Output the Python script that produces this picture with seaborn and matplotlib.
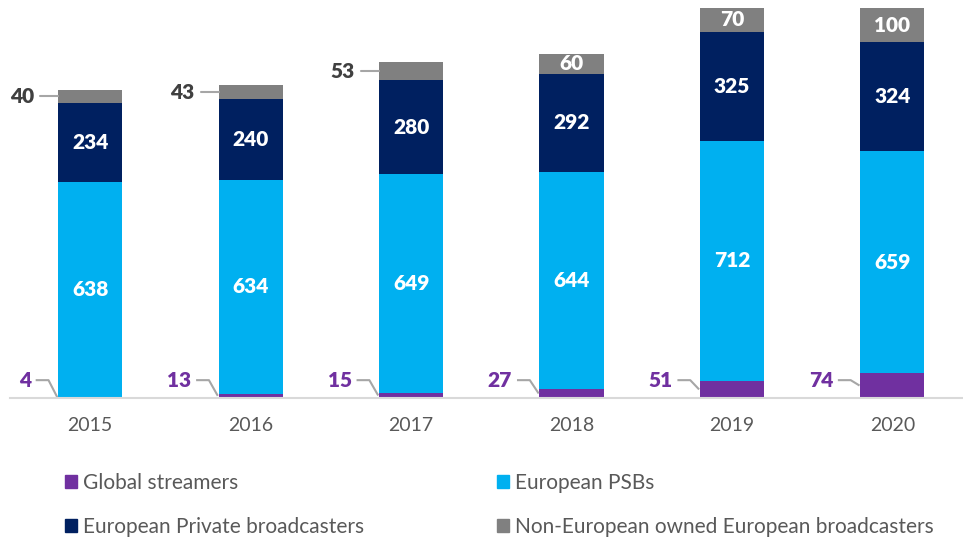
import pandas as pd
import matplotlib.pyplot as plt
import seaborn as sns
from matplotlib.patches import Patch

years = ['2015', '2016', '2017', '2018', '2019', '2020']
global_streamers = [4, 13, 15, 27, 51, 74]
european_psbs = [638, 634, 649, 644, 712, 659]
european_private = [234, 240, 280, 292, 325, 324]
non_european = [40, 43, 53, 60, 70, 100]

series_names = ['Global streamers', 'European PSBs',
                'European Private broadcasters',
                'Non-European owned European broadcasters']
series_values = [global_streamers, european_psbs, european_private, non_european]
colors = ['#7030A0', '#00B0F0', '#002060', '#808080']

sns.set_theme(style='white')
plt.rcParams['font.family'] = ['Lato', 'DejaVu Sans']

fig = plt.figure(figsize=(9.63, 5.4), dpi=100)
ax = fig.add_axes([10 / 963, 142 / 540, 953 / 963, 398 / 540])

bar_w = 0.4
bottoms = [0] * len(years)
for name, vals, col in zip(series_names, series_values, colors):
    df = pd.DataFrame({'year': years, 'value': vals})
    sns.barplot(data=df, x='year', y='value', color=col, width=bar_w,
                bottom=bottoms, saturation=1, ax=ax, linewidth=0)
    bottoms = [b + v for b, v in zip(bottoms, vals)]

ax.set_xlim(-0.5, 5.44)
ax.set_ylim(0, 1182)
ax.set_xlabel('')
ax.set_ylabel('')
ax.set_yticks([])
ax.tick_params(axis='x', length=0, pad=14, labelsize=14, labelcolor='#595959')
for s in ['top', 'right', 'left']:
    ax.spines[s].set_visible(False)
ax.spines['bottom'].set_color('#D9D9D9')
ax.spines['bottom'].set_linewidth(1.5)

lab_fs = 15
lab_w = 'heavy'
line_col = '#A6A6A6'
for i in range(len(years)):
    left = i - bar_w / 2
    # global streamers: label outside with leader line
    v = global_streamers[i]
    mid = v / 2
    ly = max(v / 2 + 10, 53)
    ax.text(left - 0.17, ly, str(v), ha='right', va='center', fontsize=lab_fs,
            fontweight=lab_w, color='#7030A0')
    ax.plot([left - 0.14, left - 0.06, left - 0.005], [ly, ly, mid],
            color=line_col, lw=1.5, solid_capstyle='butt')

    base = global_streamers[i]
    # PSBs and private: inside white labels
    for vals in [european_psbs, european_private]:
        v = vals[i]
        ax.text(i, base + v / 2, str(v), ha='center', va='center',
                fontsize=lab_fs, fontweight=lab_w, color='white')
        base += v

    v = non_european[i]
    mid = base + v / 2
    if v < 55:
        ax.text(left - 0.15, mid, str(v), ha='right', va='center',
                fontsize=lab_fs, fontweight=lab_w, color='#404040')
        ax.plot([left - 0.11, left], [mid, mid], color=line_col, lw=1.5)
    else:
        ax.text(i, mid, str(v), ha='center', va='center', fontsize=lab_fs,
                fontweight=lab_w, color='white')

handles = [Patch(color=c, label=n) for n, c in zip(series_names, colors)]
order = [0, 2, 1, 3]
leg = fig.legend([handles[k] for k in order], [series_names[k] for k in order],
                 ncol=2, loc='upper left', bbox_to_anchor=(65 / 963, 1 - 473 / 540),
                 frameon=False, fontsize=15, handlelength=0.56, handleheight=0.56,
                 handletextpad=0.3, labelspacing=1.15, columnspacing=6.4,
                 borderpad=0, borderaxespad=0)
for t in leg.get_texts():
    t.set_color('#595959')

plt.savefig('out.png', dpi=100)
